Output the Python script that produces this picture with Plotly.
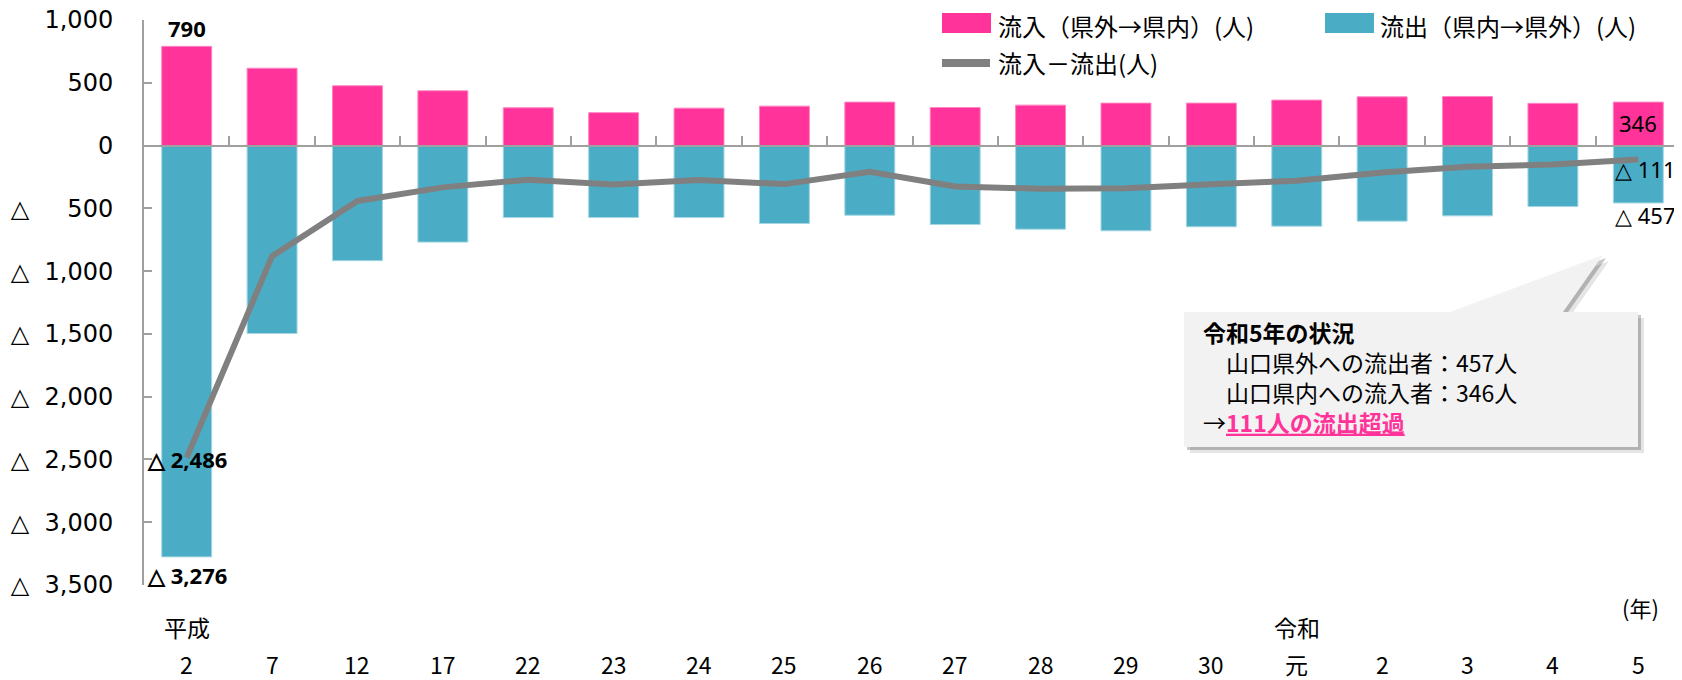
import plotly.graph_objects as go

# ---------------- data ----------------
categories = ["平成2", "平成7", "平成12", "平成17", "平成22", "平成23", "平成24", "平成25",
              "平成26", "平成27", "平成28", "平成29", "平成30", "令和元", "令和2", "令和3",
              "令和4", "令和5"]
year_labels = ["2", "7", "12", "17", "22", "23", "24", "25", "26", "27", "28", "29", "30",
               "元", "2", "3", "4", "5"]
era_labels = {0: "平成", 13: "令和"}

inflow = [790, 616, 476, 436, 301, 262, 298, 314, 346, 303, 322, 338, 338, 362, 388, 391, 336, 346]
outflow = [3276, 1497, 917, 769, 573, 573, 573, 621, 555, 629, 666, 679, 647, 642, 602, 560, 486, 457]
net = [-2486, -881, -441, -333, -272, -311, -275, -307, -209, -326, -344, -341, -309, -280,
       -214, -169, -150, -111]

y_tickvals = [1000, 500, 0, -500, -1000, -1500, -2000, -2500, -3000, -3500]

name_in = "流入（県外→県内）(人)"
name_out = "流出（県内→県外）(人)"
name_net = "流入－流出(人)"

PINK = "#FF3399"
BLUE = "#4BACC6"
GRAY = "#808080"
AXIS = "#A0A0A0"

# The page puts the figure 8px from the top-left corner of the window.
OFF = 8
W, H = 1682 - OFF, 680 - OFF
# plot area in window pixels: x 144..1681, y 20..585
ML = 144 - OFF
MT = 20 - OFF
MR = W - (1681 - OFF)
MB = H - (585 - OFF)
PW, PH = W - ML - MR, H - MT - MB


def px(x):
    """window pixel x -> paper"""
    return (x - OFF - ML) / PW


def py(y):
    """window pixel y -> paper"""
    return (H - MB - (y - OFF)) / PH


def tick_text(v):
    s = f"{abs(v):,}"
    if v < 0:
        pad = "\u00a0" * (2 if len(s) > 3 else 5)
        return "△" + pad + s
    return s


def neg_label(v):
    return "△ " + f"{abs(v):,}"


fig = go.Figure()
fig.add_trace(go.Bar(x=categories, y=inflow, name=name_in, width=0.585,
                     marker=dict(color=PINK, line=dict(color="#FF85C2", width=1))))
fig.add_trace(go.Bar(x=categories, y=[-v for v in outflow], name=name_out, width=0.585,
                     marker=dict(color=BLUE, line=dict(color="#A5D6E3", width=1))))
fig.add_trace(go.Scatter(x=categories, y=net, name=name_net, mode="lines",
                         line=dict(color=GRAY, width=6)))

ann = []
LBL = "Noto Sans"
CJK = "Noto Sans CJK JP"

# data labels
ann.append(dict(x=categories[0], y=inflow[0], xref="x", yref="y", text=f"<b>{inflow[0]:,}</b>",
                showarrow=False, yanchor="bottom", yshift=1,
                font=dict(family=LBL, size=22, color="black")))
ann.append(dict(x=categories[0], y=net[0], xref="x", yref="y", text=f"<b>{neg_label(net[0])}</b>",
                showarrow=False, yanchor="middle", yshift=-1,
                font=dict(family=LBL, size=22, color="black")))
ann.append(dict(x=categories[0], y=-outflow[0], xref="x", yref="y", text=f"<b>{neg_label(outflow[0])}</b>",
                showarrow=False, yanchor="top", yshift=-1,
                font=dict(family=LBL, size=22, color="black")))
ann.append(dict(x=categories[-1], y=inflow[-1], xref="x", yref="y", text=f"{inflow[-1]:,}",
                showarrow=False, yanchor="top", yshift=-4,
                font=dict(family=LBL, size=22, color="black")))
ann.append(dict(x=categories[-1], y=-outflow[-1], xref="x", yref="y", text=neg_label(outflow[-1]),
                showarrow=False, yanchor="top", yshift=5, xshift=7,
                font=dict(family=LBL, size=22, color="black")))
ann.append(dict(x=categories[-1], y=net[-1], xref="x", yref="y", text=neg_label(net[-1]),
                showarrow=False, yanchor="middle", yshift=-10, xshift=7,
                font=dict(family=LBL, size=22, color="black")))

# category labels
for i, c in enumerate(categories):
    ann.append(dict(x=c, y=py(664), xref="x", yref="paper", text=year_labels[i],
                    showarrow=False, yanchor="middle",
                    font=dict(family=CJK, size=23, color="black")))
for i, t in era_labels.items():
    ann.append(dict(x=categories[i], y=py(627), xref="x", yref="paper", text=t,
                    showarrow=False, yanchor="middle",
                    font=dict(family=CJK, size=23, color="black")))
ann.append(dict(x=px(1661), y=py(607), xref="paper", yref="paper", text="(年)",
                showarrow=False, xanchor="right", yanchor="middle",
                font=dict(family=CJK, size=22, color="black")))

# manual legend
shapes = []
shapes.append(dict(type="rect", xref="paper", yref="paper", x0=px(942), x1=px(991),
                   y0=py(33), y1=py(13), fillcolor=PINK, line=dict(width=0)))
shapes.append(dict(type="rect", xref="paper", yref="paper", x0=px(1325), x1=px(1374),
                   y0=py(33), y1=py(13), fillcolor=BLUE, line=dict(width=0)))
shapes.append(dict(type="line", xref="paper", yref="paper", x0=px(942), x1=px(990),
                   y0=py(63), y1=py(63), line=dict(color=GRAY, width=8)))
for txt, x, y in [(name_in, 996, 25), (name_out, 1378, 25), (name_net, 996, 63)]:
    ann.append(dict(x=px(x), y=py(y), xref="paper", yref="paper", text=txt, showarrow=False,
                    xanchor="left", yanchor="middle",
                    font=dict(family=CJK, size=24, color="black")))

# callout
pts = [(1184, 312), (1450, 312), (1603, 255), (1563, 312), (1638, 312), (1638, 447), (1184, 447)]


def path(points, dx=0, dy=0):
    return "M " + " L ".join(f"{px(x + dx):.5f},{py(y + dy):.5f}" for x, y in points) + " Z"


shapes.append(dict(type="path", xref="paper", yref="paper", path=path(pts, 6, 6),
                   fillcolor="rgba(0,0,0,0.10)", line=dict(width=0)))
shapes.append(dict(type="path", xref="paper", yref="paper", path=path(pts, 3, 3),
                   fillcolor="rgba(0,0,0,0.22)", line=dict(width=0)))
shapes.append(dict(type="path", xref="paper", yref="paper", path=path(pts),
                   fillcolor="#F2F2F2", line=dict(width=0)))

callout_lines = [
    "<b>令和5年の状況</b>",
    f"\u3000山口県外への流出者：{outflow[-1]}人",
    f"\u3000山口県内への流入者：{inflow[-1]}人",
    f"→<span style='color:{PINK}'><b><u>{abs(net[-1])}人の流出超過</u></b></span>",
]
ann.append(dict(x=px(1201), y=py(377), xref="paper", yref="paper",
                text="<br>".join(callout_lines), showarrow=False, align="left",
                xanchor="left", yanchor="middle",
                font=dict(family=CJK, size=23, color="black")))

fig.update_layout(
    width=W, height=H,
    margin=dict(l=ML, r=MR, t=MT, b=MB, pad=0, autoexpand=False),
    paper_bgcolor="white", plot_bgcolor="white",
    barmode="relative", showlegend=False, hovermode=False,
    annotations=ann, shapes=shapes,
    xaxis=dict(type="category", categoryorder="array", categoryarray=categories,
               range=[-0.5, len(categories) - 0.5],
               anchor="free", position=3500 / 4500, automargin=False,
               showline=True, linecolor=AXIS, linewidth=2,
               ticks="inside", ticklen=9, tickwidth=2, tickcolor=AXIS,
               tickson="boundaries", showticklabels=False, showgrid=False, zeroline=False),
    yaxis=dict(range=[-3500, 1000], tickvals=y_tickvals, automargin=False,
               ticktext=[tick_text(v) for v in y_tickvals],
               showline=True, linecolor=AXIS, linewidth=2,
               ticks="inside", ticklen=8, tickwidth=2, tickcolor=AXIS,
               ticklabelstandoff=24, ticklabeloverflow="allow",
               tickfont=dict(family="DejaVu Sans", size=24, color="black"),
               showgrid=False, zeroline=False),
)

fig.write_html("out.html")
